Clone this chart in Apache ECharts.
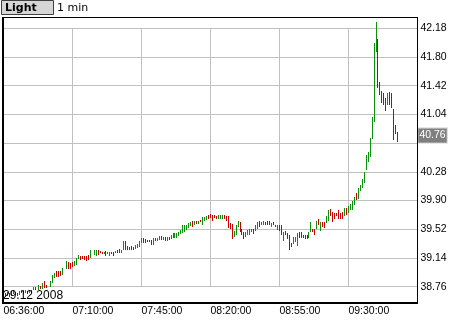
<!DOCTYPE html>
<html><head><meta charset="utf-8">
<script src="https://cdn.jsdelivr.net/npm/echarts@6/dist/echarts.min.js"></script>
<style>html,body{margin:0;padding:0;background:#fff}#c{width:460px;height:320px}</style>
</head><body><div id="c"></div>
<script>
// ---- data ----
const styleLabel = 'Light';
const periodLabel = '1 min';
const dateLabel = '29.12 2008';
const axisStart = '06:35', axisEnd = '10:05';
const tickLabels = ['06:36:00','07:10:00','07:45:00','08:20:00','08:55:00','09:30:00'];
const yMin = 38.76, yMax = 42.18, yStep = 0.38;
const lastPrice = 40.76;
// minutes that have a bar (one bar per minute inside each run)
const sessionRuns = [['06:36','06:51'],['06:53','06:57'],['06:59','07:05'],['07:07','07:19'],['07:21','09:55']];
const lows = [
 38.63,38.64,38.63,38.64,38.66,38.65,38.64,38.65,38.67,38.66,38.67,38.66,38.68,38.68,38.72,38.72,
 38.72,38.73,38.73,38.74,38.74,
 38.76,38.81,38.88,38.89,38.89,38.90,38.91,
 38.99,39.00,38.99,39.02,39.03,39.05,39.13,39.12,39.13,39.11,39.10,39.12,39.14,
 39.18,39.17,39.18,39.20,39.19,39.19,39.17,39.19,39.17,39.19,
 39.17,39.20,39.21,39.21,39.21,39.24,39.25,39.25,39.25,39.24,
 39.25,39.26,39.27,39.29,39.34,39.34,39.34,39.35,39.35,39.31,
 39.31,39.36,39.36,39.38,39.38,39.38,39.37,39.37,39.38,39.39,
 39.40,39.41,39.41,39.43,39.46,39.47,39.49,39.51,39.54,39.56,
 39.55,39.58,39.59,39.59,39.61,39.58,39.63,39.64,39.66,39.67,
 39.63,39.67,39.65,39.66,39.66,39.66,39.65,39.63,39.54,39.53,
 39.39,39.42,39.44,39.55,39.48,39.44,39.39,39.42,39.45,39.45,
 39.48,39.46,39.50,39.53,39.55,39.58,39.57,39.57,39.57,39.57,
 39.55,39.57,39.55,39.51,39.50,39.45,39.37,39.45,39.39,39.24,
 39.28,39.32,39.35,39.30,39.41,39.41,39.41,39.39,39.39,39.40,
 39.48,39.48,39.45,39.53,39.57,39.50,39.55,39.54,39.60,39.63,
 39.69,39.62,39.66,39.69,39.66,39.66,39.65,39.69,39.71,39.74,
 39.78,39.78,39.84,39.91,39.92,40.02,40.06,40.13,40.31,40.41,
 40.48,40.72,40.94,41.87,41.39,41.30,41.19,41.17,41.09,41.17,
 41.16,41.12,40.70,40.78,40.68
];
const highs = [
 38.68,38.69,38.67,38.70,38.70,38.69,38.68,38.70,38.71,38.70,38.72,38.70,38.72,38.71,38.75,38.76,
 38.78,38.77,38.81,38.83,38.78,
 38.83,38.91,38.94,38.97,38.97,38.97,39.01,
 39.10,39.09,39.08,39.09,39.10,39.14,39.18,39.17,39.17,39.17,39.17,39.18,39.24,
 39.25,39.25,39.25,39.22,39.22,39.22,39.23,39.22,39.22,39.22,
 39.22,39.23,39.25,39.26,39.25,39.36,39.36,39.30,39.29,39.30,
 39.29,39.31,39.33,39.37,39.41,39.41,39.39,39.38,39.38,39.38,
 39.41,39.40,39.41,39.43,39.43,39.42,39.42,39.42,39.42,39.44,
 39.47,39.47,39.47,39.49,39.51,39.57,39.57,39.58,39.60,39.61,
 39.63,39.63,39.63,39.63,39.64,39.68,39.68,39.70,39.71,39.72,
 39.71,39.71,39.70,39.71,39.71,39.71,39.71,39.70,39.70,39.60,
 39.59,39.50,39.58,39.63,39.62,39.53,39.48,39.48,39.51,39.52,
 39.53,39.52,39.58,39.61,39.63,39.61,39.63,39.62,39.63,39.63,
 39.60,39.61,39.58,39.57,39.57,39.57,39.49,39.50,39.47,39.45,
 39.34,39.42,39.42,39.47,39.49,39.48,39.45,39.45,39.45,39.49,
 39.61,39.53,39.52,39.63,39.65,39.62,39.61,39.61,39.70,39.78,
 39.79,39.75,39.73,39.74,39.77,39.73,39.75,39.80,39.80,39.83,
 39.86,39.89,39.95,40.00,40.06,40.10,40.19,40.28,40.50,40.54,
 40.73,41.01,41.98,42.26,42.04,41.47,41.35,41.33,41.26,41.33,
 41.34,41.33,41.11,40.90,40.81
];
// G = rising bar (green), R = falling bar (red)
const dirs = 'RGRGGRRGGRGRGRGR' + 'GRGRR' + 'GGGRRRG' + 'GRRRGGGRRRRRG' +
 'GGRRRGRGGR' + 'RGRRGGRRRR' + 'RGGGGRRRRR' + 'GRGGRGRGRG' + 'GGGGGGGGGG' +
 'RGRGRGGGRR' + 'RRRGGGRRRR' + 'RGGGRRRGGG' + 'GRGGRGGRRR' + 'GRRGRRGRRR' +
 'RGGGRRRRRG' + 'GRRGRGRRGG' + 'RRRRRRRGRG' + 'GGGRGGGGGG' + 'GGGGRRRRRG' + 'RRRRR';

// ---- build ----
const UP = '#0c900c', DOWN = '#c80000', GRIDC = '#c0c0c0';
function toMin(t){const p=t.split(':');return (+p[0])*60+(+p[1]);}
function fmt(m){return String(Math.floor(m/60)).padStart(2,'0')+':'+String(m%60).padStart(2,'0');}
const slots=[]; for(let m=toMin(axisStart);m<=toMin(axisEnd);m++) slots.push(fmt(m));
const barTimes=[]; sessionRuns.forEach(r=>{for(let m=toMin(r[0]);m<=toMin(r[1]);m++) barTimes.push(fmt(m));});
if (barTimes.length!==lows.length||lows.length!==highs.length||highs.length!==dirs.length)
  console.error('length mismatch', barTimes.length, lows.length, highs.length, dirs.length);
const bars = barTimes.map((t,k)=>[slots.indexOf(t), lows[k], highs[k], dirs[k]==='G'?1:0]);

const chart = echarts.init(document.getElementById('c'), null, {renderer:'canvas', width:460, height:320});
const LBL = {color:'#000', fontSize:10.5, fontFamily:'Liberation Sans'};
chart.setOption({
  animation:false,
  backgroundColor:'#fff',
  grid:{left:3.5, right:42.6, top:28.3, bottom:33.3, containLabel:false, outerBoundsMode:'none'},
  xAxis:{type:'category', data:slots, boundaryGap:false,
    axisLine:{show:false}, axisTick:{show:false},
    axisLabel:Object.assign({interval:(i)=>i%35===0&&i<210, formatter:(v,i)=>tickLabels[Math.round(i/35)], align:'left', margin:19}, LBL),
    splitLine:{show:true, interval:(i)=>i>0&&i%35===0&&i<210, lineStyle:{color:GRIDC, width:1}}},
  yAxis:{type:'value', position:'right', min:yMin, max:yMax, interval:yStep,
    axisLine:{show:false}, axisTick:{show:false},
    splitLine:{show:true, lineStyle:{color:GRIDC, width:1}},
    axisLabel:Object.assign({margin:3, padding:[0,0,8,0], formatter:(v)=>Math.abs(v-lastPrice)<0.15?'':v.toFixed(2)}, LBL)},
  series:[{
    type:'custom', data:bars, encode:{x:0, y:[1,2]}, clip:false, silent:true,
    renderItem:function(params, api){
      const xi = api.value(0);
      const lo = api.coord([xi, api.value(1)]);
      const hi = api.coord([xi, api.value(2)]);
      const x = Math.floor(lo[0]) + 0.5;
      let y1 = Math.round(lo[1]), y2 = Math.round(hi[1]);
      if (y1 - y2 < 2) y2 = y1 - 2;
      return {type:'line', shape:{x1:x, y1:y1, x2:x, y2:y2}, style:{stroke: api.value(3)?UP:DOWN, lineWidth:1}};
    },
    markLine:{silent:true, symbol:['none','none'], animation:false,
      lineStyle:{color:'rgba(0,0,0,0)', width:0},
      label:Object.assign({show:true, position:'end', distance:1, formatter:()=>lastPrice.toFixed(2),
        backgroundColor:'#7f7f7f', borderColor:'#d0d0d0', borderWidth:1, padding:[2,1,1,1]}, LBL, {color:'#fff'}),
      data:[{yAxis:lastPrice}]}
  }],
  graphic:[
    {type:'rect', z:100, shape:{x:1.5, y:0.5, width:52, height:14}, style:{fill:'#d6d6d6', stroke:'#404040', lineWidth:1}},
    {type:'text', z:101, x:5, y:8, style:{text:styleLabel, font:'bold 11px "DejaVu Sans"', fill:'#000', verticalAlign:'middle'}},
    {type:'text', z:101, x:57, y:8, style:{text:periodLabel, font:'11px "DejaVu Sans"', fill:'#000', verticalAlign:'middle'}},
    {type:'line', z:100, shape:{x1:2, y1:17.5, x2:418, y2:17.5}, style:{stroke:'#000', lineWidth:1}},
    {type:'line', z:100, shape:{x1:417.5, y1:17, x2:417.5, y2:304}, style:{stroke:'#000', lineWidth:1}},
    {type:'rect', z:100, shape:{x:2, y:17, width:2, height:287}, style:{fill:'#000'}},
    {type:'rect', z:100, shape:{x:2, y:302, width:416, height:2}, style:{fill:'#000'}},
    {type:'text', z:101, x:3, y:295.5, style:{text:dateLabel, font:'12px "Liberation Sans"', fill:'#000', verticalAlign:'middle'}}
  ]
});
</script></body></html>
